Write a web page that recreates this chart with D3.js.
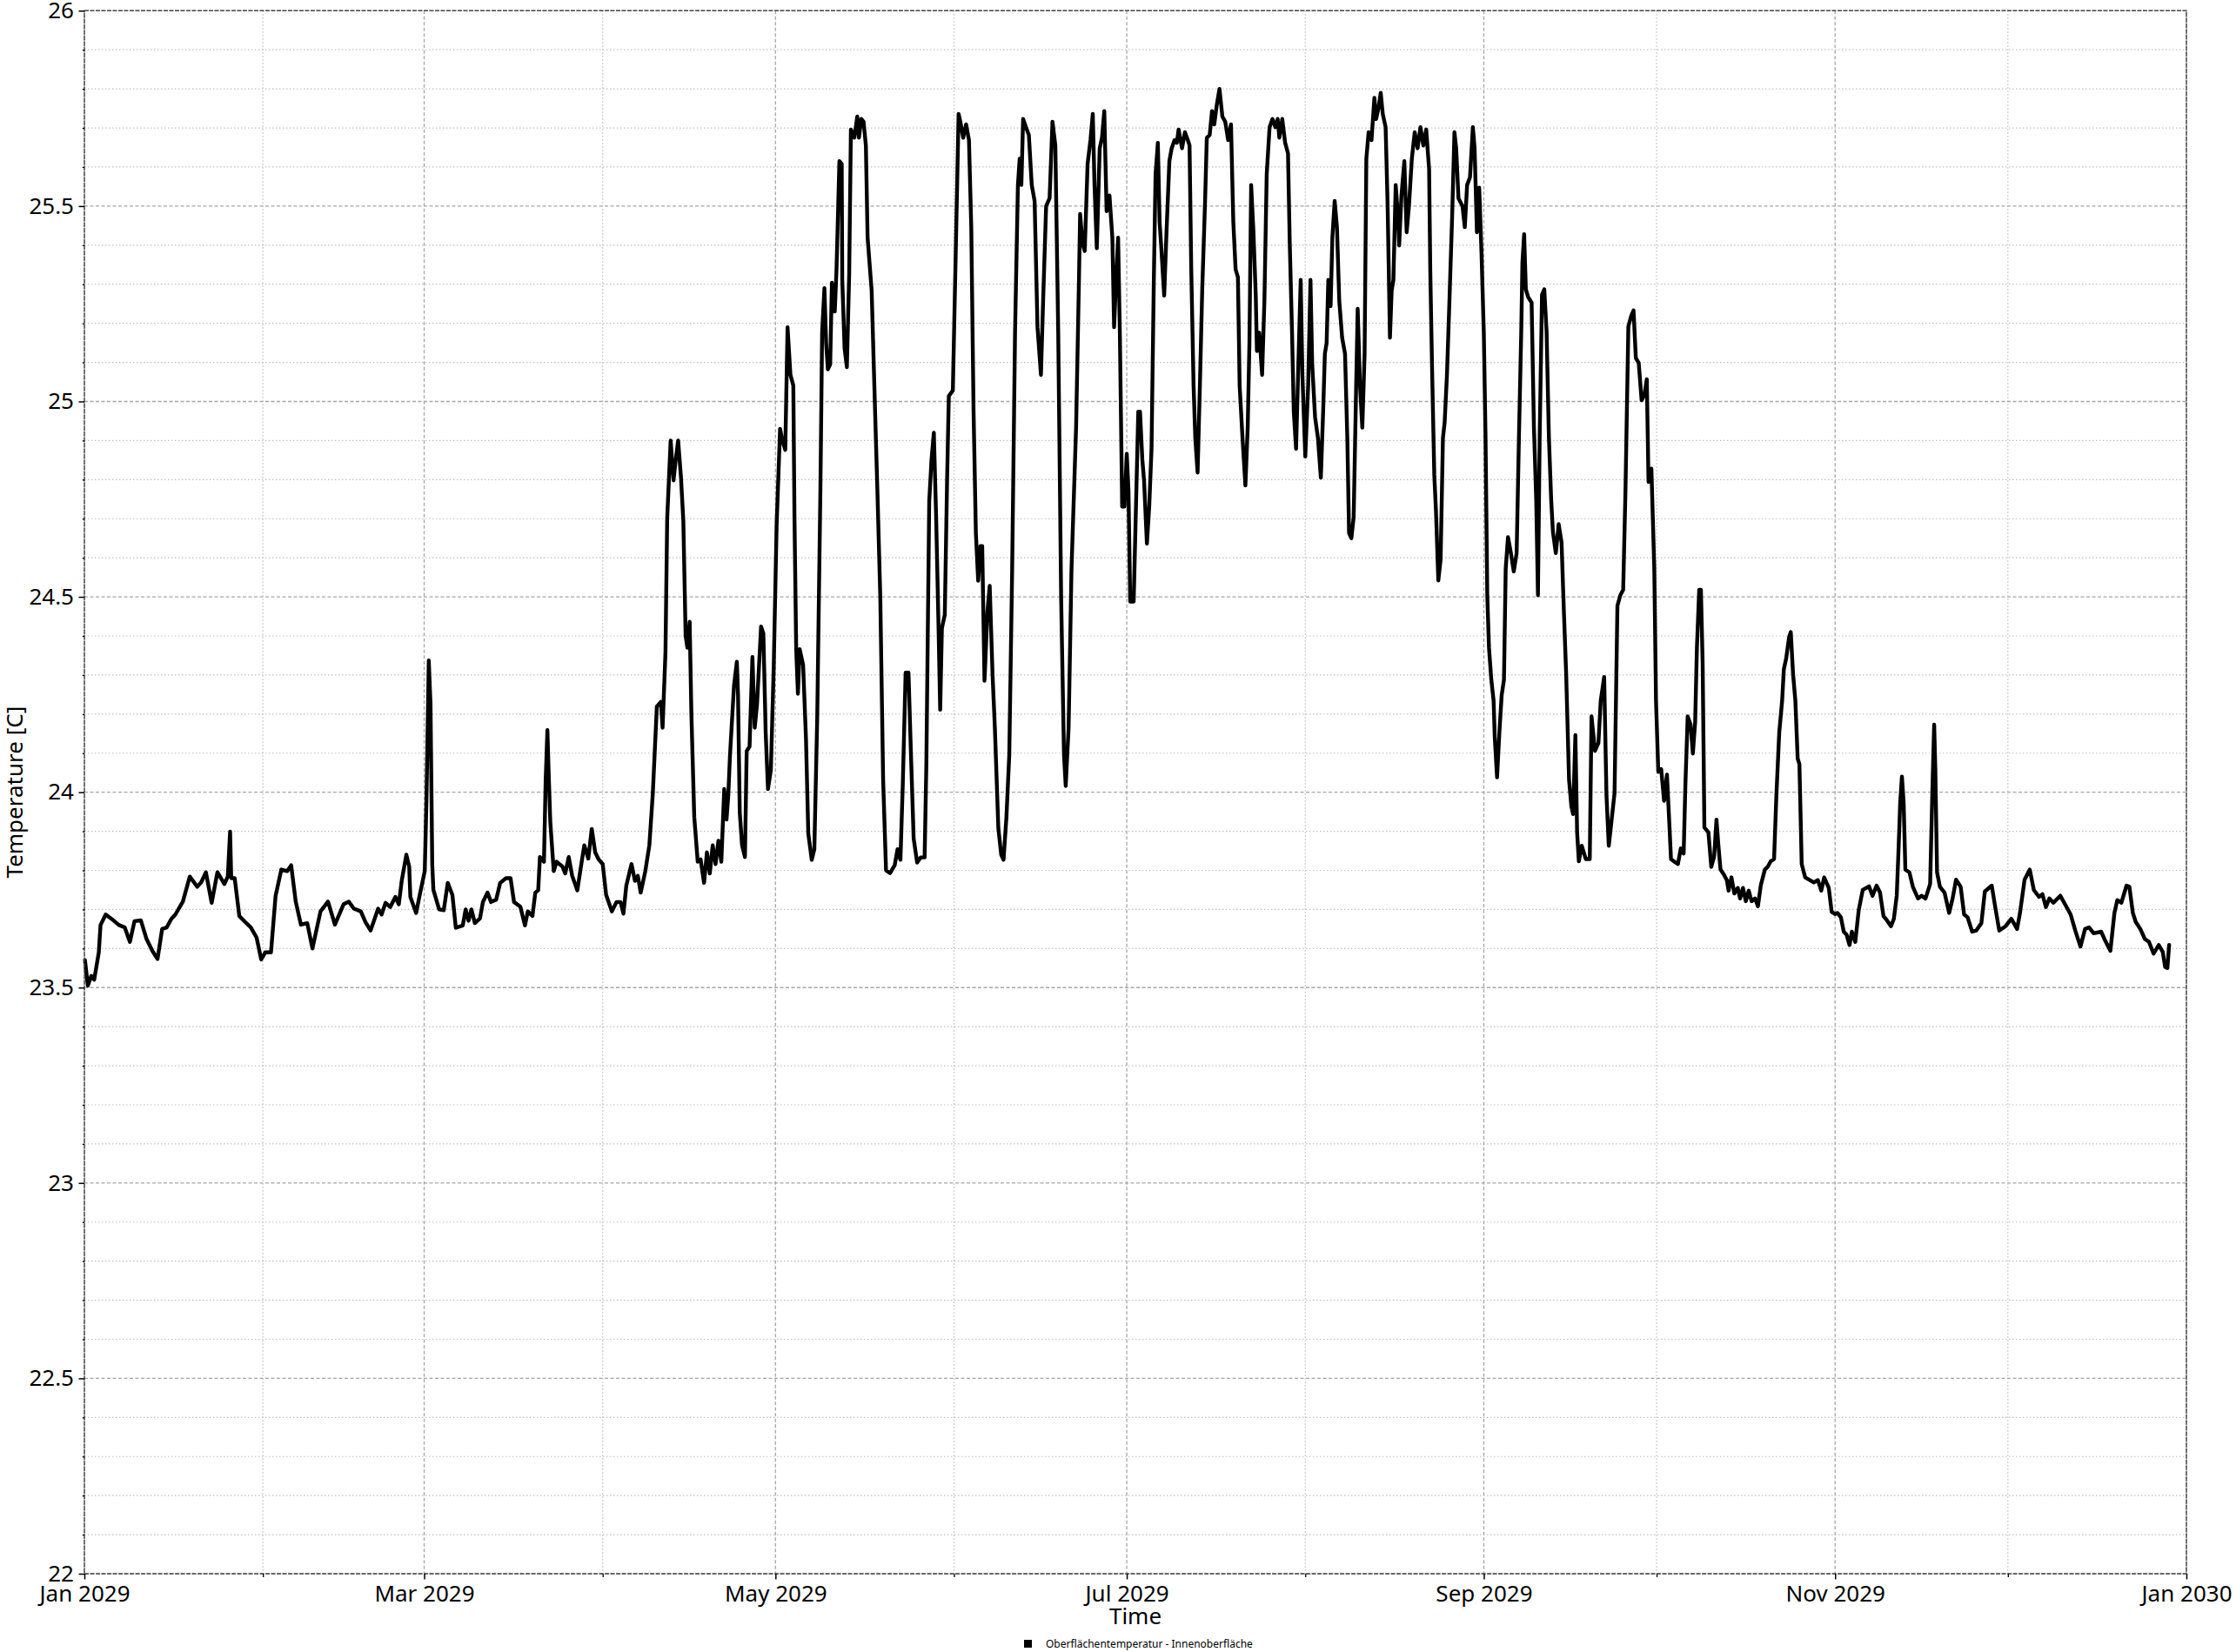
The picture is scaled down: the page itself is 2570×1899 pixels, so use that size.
<!DOCTYPE html>
<html>
<head>
<meta charset="utf-8">
<script src="https://cdn.jsdelivr.net/npm/d3@7"></script>
<style>
  body { margin: 0; background: #fff; }
  svg { display: block; }
  text { font-family: "Noto Sans", "DejaVu Sans", sans-serif; fill: #000; }
</style>
</head>
<body>
<svg id="chart" width="2570" height="1899"></svg>
<script>
// ---- DATA: [day offset from 1 Jan 2029, temperature °C] ----
const readingsJanFeb = [[0.1,23.57],[0.6,23.505],[1.2,23.53],[1.7,23.52],[2.5,23.59],[2.8,23.66],[3.7,23.687],[4.7,23.676],[6.0,23.66],[7.0,23.654],[7.9,23.617],[8.7,23.67],[9.8,23.672],[10.8,23.624],[11.8,23.594],[12.7,23.573],[13.5,23.65],[14.3,23.654],[15.1,23.676],[15.8,23.687],[17.1,23.72],[18.3,23.784],[19.6,23.758],[20.3,23.77],[21.1,23.795],[22.1,23.717],[23.1,23.795],[24.3,23.765],[24.9,23.784],[25.3,23.899],[25.5,23.78],[26.1,23.78],[26.9,23.683],[27.9,23.668],[28.9,23.654],[29.9,23.628],[30.7,23.572],[31.4,23.59],[32.4,23.59],[33.2,23.735],[34.2,23.802],[35.2,23.798],[35.9,23.813],[36.7,23.72],[37.6,23.661],[38.7,23.665],[39.6,23.60],[41.0,23.695],[42.3,23.72],[43.5,23.661],[45.0,23.713],[45.9,23.72],[46.8,23.702],[48.0,23.695],[48.8,23.668],[49.7,23.646],[51.0,23.702],[51.6,23.687],[52.3,23.717],[53.1,23.706],[54.0,23.732],[54.6,23.713],[55.1,23.773],[55.9,23.84],[56.4,23.81],[56.6,23.732],[57.6,23.691],[58.2,23.735],[59.1,23.798],[59.4,23.98],[59.8,24.337],[60.1,24.225],[60.4,23.817],[60.6,23.75]];

const readingsMarApr = [[61.6,23.70],[62.4,23.698],[63.1,23.768],[63.9,23.737],[64.5,23.653],[65.7,23.659],[66.2,23.70],[66.7,23.671],[67.2,23.70],[67.8,23.665],[68.7,23.677],[69.2,23.719],[70.0,23.743],[70.6,23.719],[71.5,23.725],[72.2,23.768],[73.2,23.78],[74.0,23.78],[74.6,23.719],[75.7,23.707],[76.5,23.659],[77.0,23.695],[77.8,23.683],[78.3,23.743],[78.8,23.749],[79.1,23.834],[79.8,23.822],[80.1,24.033],[80.4,24.159],[80.6,24.057],[80.9,23.924],[81.5,23.798],[82.0,23.822],[83.0,23.81],[83.5,23.792],[84.1,23.834],[84.7,23.786],[85.6,23.749],[86.1,23.798],[86.8,23.864],[87.5,23.83],[88.1,23.906],[88.7,23.846],[89.3,23.828],[90.0,23.816],[90.6,23.737],[91.6,23.695],[92.4,23.719],[93.1,23.719],[93.6,23.689],[94.1,23.761],[95.0,23.816],[95.6,23.773],[96.1,23.786],[96.6,23.743],[97.4,23.798],[98.1,23.864],[98.7,23.996],[99.4,24.219],[100.1,24.231],[100.4,24.165],[100.9,24.358],[101.2,24.701],[101.8,24.90],[102.3,24.798],[102.6,24.84],[103.1,24.90],[103.6,24.804],[104.0,24.695],[104.4,24.40],[104.7,24.37],[105.1,24.436],[105.4,24.201],[105.9,23.936],[106.5,23.822],[107.0,23.828],[107.6,23.768],[108.1,23.846],[108.6,23.792],[109.1,23.864],[109.6,23.816],[110.1,23.876],[110.6,23.822],[111.1,24.008],[111.5,23.93],[111.8,23.99],[112.1,24.093],[112.8,24.273],[113.3,24.334],[113.5,24.249],[113.8,23.948],[114.2,23.864],[114.7,23.834],[115.0,24.105],[115.5,24.117],[116.0,24.346],[116.4,24.165],[116.8,24.225],[117.5,24.424],[117.9,24.406],[118.3,24.153],[118.7,24.008],[119.2,24.057],[119.7,24.322],[120.2,24.683],[120.8,24.93],[121.2,24.90],[121.7,24.876]];

const readingsMayJun = [[122.1,25.19],[122.6,25.068],[123.1,25.041],[123.3,24.704],[123.6,24.366],[123.9,24.252],[124.2,24.366],[124.8,24.326],[125.3,24.137],[125.7,23.894],[126.3,23.827],[126.75,23.854],[127.25,24.19],[127.8,24.771],[128.1,25.176],[128.5,25.29],[128.8,25.149],[129.1,25.082],[129.5,25.095],[129.8,25.304],[130.3,25.23],[130.6,25.338],[131.1,25.615],[131.5,25.608],[131.6,25.311],[132.0,25.136],[132.4,25.088],[132.8,25.325],[133.1,25.696],[133.7,25.675],[134.2,25.729],[134.5,25.675],[134.9,25.723],[135.3,25.716],[135.7,25.655],[136.0,25.419],[136.7,25.284],[137.3,24.974],[137.7,24.771],[138.2,24.501],[138.7,24.029],[139.2,23.80],[139.9,23.793],[140.7,23.813],[141.2,23.854],[141.7,23.827],[142.1,24.016],[142.6,24.306],[143.1,24.306],[143.5,24.11],[144.0,23.881],[144.6,23.82],[145.2,23.833],[145.9,23.833],[146.2,24.07],[146.7,24.744],[147.1,24.852],[147.5,24.92],[147.9,24.704],[148.3,24.434],[148.6,24.211],[148.9,24.42],[149.4,24.454],[149.8,24.798],[150.1,25.014],[150.8,25.028],[151.3,25.379],[151.8,25.736],[152.1,25.716],[152.6,25.675],[153.1,25.709],[153.6,25.669],[154.0,25.446],[154.4,24.974],[154.8,24.663],[155.2,24.541],[155.6,24.63],[155.9,24.63],[156.3,24.285],[156.8,24.461],[157.2,24.528],[157.7,24.299],[158.1,24.164],[158.7,23.908],[159.2,23.84],[159.6,23.827],[160.1,23.935],[160.6,24.096],[161.1,24.569],[161.6,25.176],[162.1,25.554],[162.4,25.621],[162.7,25.554],[163.0,25.723],[163.5,25.702],[164.0,25.682],[164.5,25.554],[165.0,25.513],[165.5,25.19],[166.1,25.068],[166.5,25.27],[167.0,25.50],[167.6,25.52],[168.1,25.716],[168.6,25.655],[169.1,25.176],[169.6,24.501],[170.1,24.096],[170.4,24.016],[170.9,24.164],[171.4,24.569],[172.2,24.933],[172.7,25.311],[172.9,25.48],[173.3,25.406],[173.7,25.385],[174.2,25.608],[174.7,25.669],[175.1,25.736],[175.4,25.554],[175.8,25.392],[176.3,25.648],[176.7,25.675],[177.1,25.743],[177.5,25.487],[178.0,25.527],[178.5,25.419],[178.8,25.19],[179.1,25.298],[179.5,25.419],[179.8,25.176],[180.2,24.731],[180.6,24.731],[181.0,24.866],[181.3,24.771],[181.6,24.488],[182.2,24.488]];

const readingsJulAug = [[183.0,24.974],[183.3,24.974],[183.7,24.852],[184.0,24.798],[184.5,24.636],[184.9,24.731],[185.3,24.879],[185.7,25.311],[186.0,25.581],[186.4,25.662],[186.7,25.46],[187.0,25.392],[187.5,25.271],[187.9,25.433],[188.4,25.615],[188.8,25.648],[189.3,25.669],[189.7,25.662],[190.0,25.696],[190.6,25.648],[191.1,25.689],[191.6,25.669],[191.9,25.655],[192.2,25.338],[192.6,25.041],[192.9,24.906],[193.3,24.818],[193.7,25.041],[194.1,25.284],[194.6,25.513],[194.9,25.675],[195.4,25.682],[195.8,25.743],[196.2,25.709],[196.6,25.756],[197.1,25.80],[197.6,25.729],[198.1,25.716],[198.6,25.669],[199.1,25.709],[199.5,25.46],[199.9,25.338],[200.3,25.318],[200.6,25.041],[201.1,24.906],[201.6,24.785],[202.0,24.933],[202.3,25.149],[202.6,25.554],[203.0,25.433],[203.4,25.271],[203.6,25.129],[204.0,25.176],[204.5,25.068],[204.9,25.257],[205.3,25.581],[205.8,25.702],[206.3,25.723],[206.8,25.702],[207.2,25.723],[207.5,25.675],[208.0,25.723],[208.5,25.662],[209.0,25.635],[209.3,25.406],[209.7,25.176],[210.0,24.974],[210.4,24.879],[210.8,25.095],[211.2,25.311],[211.5,25.068],[212.0,24.859],[212.5,25.041],[212.9,25.311],[213.2,25.095],[213.7,24.96],[214.2,24.906],[214.7,24.805],[215.1,24.974],[215.4,25.122],[215.7,25.149],[216.0,25.311],[216.4,25.244],[216.7,25.419],[217.1,25.513],[217.5,25.446],[217.9,25.257],[218.4,25.163],[218.9,25.122],[219.3,24.906],[219.6,24.663],[220.0,24.65],[220.4,24.704],[220.8,25.014],[221.1,25.237],[221.5,25.041],[221.9,24.933],[222.3,25.122],[222.6,25.621],[223.0,25.689],[223.5,25.669],[224.0,25.777],[224.3,25.723],[224.7,25.75],[225.1,25.79],[225.45,25.736],[225.95,25.702],[226.3,25.50],[226.7,25.163],[227.0,25.284],[227.3,25.311],[227.7,25.554],[228.1,25.473],[228.3,25.399],[228.7,25.527],[229.2,25.615],[229.6,25.433],[230.0,25.50],[230.5,25.621],[231.0,25.689],[231.5,25.648],[232.0,25.702],[232.5,25.655],[233.0,25.696],[233.5,25.594],[233.7,25.338],[234.0,25.095],[234.4,24.812],[234.7,24.717],[235.1,24.542],[235.5,24.596],[235.9,24.906],[236.2,24.947],[236.6,25.068],[237.0,25.244],[237.5,25.473],[237.9,25.689],[238.2,25.648],[238.6,25.52],[239.3,25.50],[239.7,25.446],[240.1,25.554],[240.6,25.574],[241.1,25.702],[241.4,25.648],[241.8,25.433],[242.2,25.547],[242.6,25.379],[243.0,25.176],[243.3,24.906]];

const readingsSepOct = [[243.6,24.504],[243.9,24.369],[244.3,24.288],[244.7,24.234],[244.9,24.14],[245.3,24.038],[245.7,24.153],[246.1,24.248],[246.5,24.288],[246.8,24.572],[247.2,24.653],[247.7,24.612],[248.2,24.565],[248.7,24.612],[249.1,24.909],[249.5,25.179],[249.7,25.354],[250.0,25.428],[250.3,25.287],[250.7,25.267],[251.3,25.253],[251.7,24.936],[252.1,24.747],[252.4,24.504],[252.7,24.909],[253.1,25.273],[253.5,25.287],[253.9,25.179],[254.3,24.909],[254.7,24.747],[255.0,24.666],[255.5,24.612],[256.0,24.686],[256.5,24.639],[256.9,24.464],[257.3,24.302],[257.8,24.032],[258.2,23.964],[258.5,23.944],[258.9,24.146],[259.2,23.897],[259.5,23.823],[260.0,23.863],[260.7,23.829],[261.4,23.829],[261.7,24.194],[262.3,24.106],[262.9,24.126],[263.3,24.234],[263.9,24.295],[264.3,23.991],[264.7,23.863],[265.2,23.93],[265.7,23.998],[266.2,24.477],[266.7,24.504],[267.2,24.518],[267.6,24.774],[268.1,25.192],[268.6,25.219],[269.0,25.233],[269.4,25.111],[269.9,25.098],[270.4,25.003],[270.9,25.017],[271.3,25.057],[271.6,24.794],[272.1,24.828],[272.6,24.572],[272.9,24.234],[273.3,24.052],[273.8,24.059],[274.3,23.978],[274.8,24.045],[275.2,23.924],[275.5,23.829],[276.0,23.823],[276.7,23.816],[277.2,23.856],[277.7,23.843],[278.0,24.018],[278.4,24.194],[278.9,24.173],[279.3,24.099],[279.7,24.18],[280.0,24.369],[280.4,24.518],[280.7,24.518],[281.0,24.329],[281.3,23.91],[282.0,23.897],[282.5,23.809],[283.0,23.836],[283.4,23.93],[283.7,23.87],[284.1,23.802],[284.7,23.789],[285.2,23.775],[285.5,23.748],[286.0,23.782],[286.5,23.741],[287.1,23.755],[287.5,23.728],[288.0,23.755],[288.5,23.721],[289.0,23.748],[289.5,23.721],[290.1,23.728],[290.6,23.708],[291.1,23.762],[291.8,23.802],[292.3,23.809],[292.8,23.823],[293.4,23.829],[293.8,23.991],[294.3,24.153],[294.8,24.234],[295.1,24.315],[295.5,24.342],[296.0,24.396],[296.3,24.41],[296.7,24.302],[297.1,24.234],[297.5,24.086],[297.8,24.072],[298.2,23.816],[298.8,23.782],[299.6,23.775],[300.3,23.769],[301.0,23.775],[301.6,23.748],[302.1,23.782],[302.9,23.755],[303.4,23.694],[304.0,23.688]];

const readingsNovDec = [[304.4,23.691],[305.0,23.68],[305.5,23.643],[306.0,23.635],[306.5,23.609],[306.9,23.643],[307.5,23.617],[308.1,23.698],[308.8,23.75],[309.9,23.759],[310.5,23.735],[311.2,23.761],[311.8,23.743],[312.4,23.683],[313.0,23.672],[313.7,23.657],[314.2,23.676],[314.7,23.735],[315.0,23.847],[315.3,23.973],[315.6,24.04],[315.9,23.973],[316.2,23.802],[316.9,23.795],[317.5,23.758],[318.4,23.728],[319.0,23.735],[319.7,23.728],[320.5,23.765],[320.9,24.01],[321.2,24.173],[321.4,24.062],[321.7,23.795],[322.2,23.758],[323.0,23.743],[323.8,23.691],[324.4,23.728],[325.0,23.776],[325.8,23.758],[326.4,23.687],[327.0,23.68],[327.8,23.643],[328.5,23.646],[329.4,23.665],[330.0,23.746],[331.2,23.761],[331.8,23.706],[332.5,23.646],[333.6,23.657],[334.6,23.676],[335.6,23.65],[336.1,23.691],[336.9,23.776],[337.8,23.802],[338.5,23.75],[339.4,23.732],[340.0,23.739],[340.6,23.706],[341.2,23.728],[341.9,23.717],[343.1,23.735],[344.2,23.706],[344.9,23.687],[345.7,23.646],[346.6,23.605],[347.4,23.65],[348.1,23.654],[348.9,23.639],[350.2,23.643],[350.9,23.62],[351.8,23.594],[352.5,23.691],[353.0,23.724],[353.7,23.717],[354.6,23.761],[355.1,23.758],[355.7,23.691],[356.2,23.668],[357.0,23.65],[357.8,23.624],[358.5,23.617],[359.3,23.587],[360.2,23.609],[360.9,23.591],[361.3,23.553],[361.7,23.55],[362.0,23.609]];

const yMajorTicks = [22, 22.5, 23, 23.5, 24, 24.5, 25, 25.5, 26];
const yTickLabels = ["22", "22.5", "23", "23.5", "24", "24.5", "25", "25.5", "26"];
const xTickLabels = ["Jan 2029", "Mar 2029", "May 2029", "Jul 2029", "Sep 2029", "Nov 2029", "Jan 2030"];
const seriesName = "Oberflächentemperatur - Innenoberfläche";
const xTitle = "Time";
const yTitle = "Temperature [C]";

// ---- LAYOUT ----
const L = 97, R = 2513, T = 12.3, B = 1809;
const svg = d3.select("#chart");

const t0 = Date.UTC(2029, 0, 1);
const toDate = d => new Date(t0 + d * 864e5);
const x = d3.scaleUtc().domain([new Date(Date.UTC(2029,0,1)), new Date(Date.UTC(2030,0,1))]).range([L, R]);
const y = d3.scaleLinear().domain([22, 26]).range([B, T]);

const allMonths = d3.utcMonth.range(new Date(Date.UTC(2029,0,1)), new Date(Date.UTC(2030,0,2)));
const xMajor = allMonths.filter((d, i) => i % 2 === 0);
const xMinor = allMonths.filter((d, i) => i % 2 === 1);
const yMinor = d3.range(22, 26.0001, 0.1).map(v => +v.toFixed(1)).filter(v => !yMajorTicks.includes(v));

// ---- GRID ----
const grid = svg.append("g");
grid.selectAll(".ymin").data(yMinor).join("line")
  .attr("x1", L).attr("x2", R).attr("y1", d => y(d)).attr("y2", d => y(d))
  .attr("stroke", "#bdbdbd").attr("stroke-width", 1.2).attr("stroke-dasharray", "1.4,2.6");
grid.selectAll(".xmin").data(xMinor).join("line")
  .attr("y1", T).attr("y2", B).attr("x1", d => x(d)).attr("x2", d => x(d))
  .attr("stroke", "#bdbdbd").attr("stroke-width", 1.2).attr("stroke-dasharray", "1.4,2.6");
grid.selectAll(".ymaj").data(yMajorTicks).join("line")
  .attr("x1", L).attr("x2", R).attr("y1", d => y(d)).attr("y2", d => y(d))
  .attr("stroke", "#a6a6a6").attr("stroke-width", 1.3).attr("stroke-dasharray", "4,2.5");
grid.selectAll(".xmaj").data(xMajor).join("line")
  .attr("y1", T).attr("y2", B).attr("x1", d => x(d)).attr("x2", d => x(d))
  .attr("stroke", "#a6a6a6").attr("stroke-width", 1.3).attr("stroke-dasharray", "4,2.5");

// ---- LINE ----
const readings = [].concat(readingsJanFeb, readingsMarApr, readingsMayJun, readingsJulAug, readingsSepOct, readingsNovDec);
const line = d3.line().x(d => x(toDate(d[0]))).y(d => y(d[1]));
svg.append("path").datum(readings)
  .attr("d", line)
  .attr("fill", "none").attr("stroke", "#000").attr("stroke-width", 4.4)
  .attr("stroke-linejoin", "round").attr("stroke-linecap", "round");

// ---- FRAME ----
svg.append("rect").attr("x", L).attr("y", T).attr("width", R - L).attr("height", B - T)
  .attr("fill", "none").attr("stroke", "#4a4a4a").attr("stroke-width", 1.5).attr("stroke-dasharray", "5,1.5");

// ---- AXES ----
const fmtY = d => yTickLabels[yMajorTicks.indexOf(d)];
const yAxis = svg.append("g").attr("transform", `translate(${L},0)`)
  .call(d3.axisLeft(y).tickValues(yMajorTicks).tickFormat(fmtY).tickSize(6.5).tickPadding(5.5));
yAxis.select(".domain").remove();
yAxis.selectAll("line").attr("stroke", "#000").attr("stroke-width", 1.5);
yAxis.selectAll("text").attr("font-size", 26).attr("font-family", "Noto Sans");

const yMinorAxis = svg.append("g").attr("transform", `translate(${L},0)`)
  .call(d3.axisLeft(y).tickValues(yMinor).tickFormat("").tickSize(2.2));
yMinorAxis.select(".domain").remove();
yMinorAxis.selectAll("line").attr("stroke", "#000").attr("stroke-width", 1.3);

const xAxis = svg.append("g").attr("transform", `translate(0,${B})`)
  .call(d3.axisBottom(x).tickValues(xMajor).tickFormat((d, i) => xTickLabels[i]).tickSize(6.5).tickPadding(7));
xAxis.select(".domain").remove();
xAxis.selectAll("line").attr("stroke", "#000").attr("stroke-width", 1.5);
xAxis.selectAll("text").attr("font-size", 26).attr("font-family", "Noto Sans");

const xMinorAxis = svg.append("g").attr("transform", `translate(0,${B})`)
  .call(d3.axisBottom(x).tickValues(xMinor).tickFormat("").tickSize(4));
xMinorAxis.select(".domain").remove();
xMinorAxis.selectAll("line").attr("stroke", "#000").attr("stroke-width", 1.3);

// ---- TITLES ----
svg.append("text").attr("x", (L + R) / 2).attr("y", 1867).attr("text-anchor", "middle")
  .attr("font-size", 26).text(xTitle);
svg.append("text").attr("transform", `translate(26,${(T + B) / 2}) rotate(-90)`)
  .attr("text-anchor", "middle").attr("font-size", 26).text(yTitle);

// ---- LEGEND ----
svg.append("rect").attr("x", 1177).attr("y", 1885).attr("width", 9).attr("height", 9).attr("fill", "#000");
svg.append("text").attr("x", 1202).attr("y", 1894).attr("font-size", 12).text(seriesName);
</script>
</body>
</html>
